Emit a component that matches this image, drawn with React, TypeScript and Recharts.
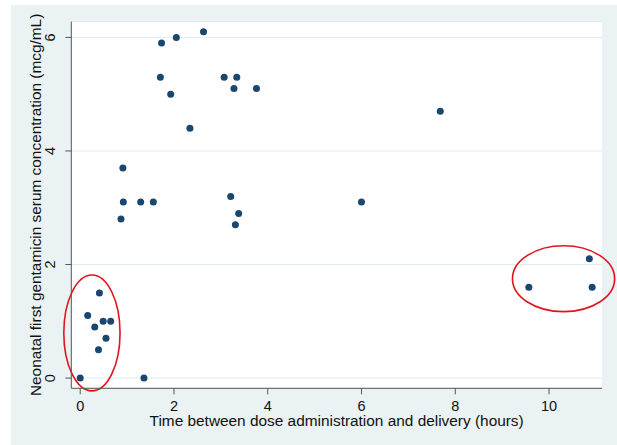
import {
  ScatterChart,
  Scatter,
  XAxis,
  YAxis,
  CartesianGrid,
  ReferenceArea,
} from "recharts";

// time between dose and delivery (hours)
const hours = [
  0, 1.36, 0.39, 0.55, 0.31, 0.49, 0.65, 0.16, 0.41, 0.87, 0.92, 0.91, 1.29,
  1.56, 1.71, 1.735, 1.93, 2.05, 2.34, 2.63, 3.07, 3.34, 3.28, 3.76, 3.21,
  3.38, 3.31, 6.0, 7.68, 9.57, 10.86, 10.92,
];
// neonatal gentamicin concentration (mcg/mL)
const concentration = [
  0, 0, 0.5, 0.7, 0.9, 1.0, 1.0, 1.1, 1.5, 2.8, 3.1, 3.7, 3.1, 3.1, 5.3, 5.9,
  5.0, 6.0, 4.4, 6.1, 5.3, 5.3, 5.1, 5.1, 3.2, 2.9, 2.7, 3.1, 4.7, 1.6, 2.1,
  1.6,
];

const xTicks = [0, 2, 4, 6, 8, 10];
const yTicks = [0, 2, 4, 6];

// red highlight ellipses: center and radii in data units
const ellipseCx = [0.25, 10.31];
const ellipseCy = [0.795, 1.75];
const ellipseRx = [0.6, 1.09];
const ellipseRy = [1.02, 0.58];

const points = hours.map((h, i) => ({ h, c: concentration[i] }));
const ellipses = ellipseCx.map((cx, i) => ({
  x1: cx - ellipseRx[i],
  x2: cx + ellipseRx[i],
  y1: ellipseCy[i] - ellipseRy[i],
  y2: ellipseCy[i] + ellipseRy[i],
}));

const FONT = "'Liberation Sans', Arial, sans-serif";
const NAVY = "#1a476f";
const AXIS = "#555";

const YTick = (props: any) => {
  const { x, y, payload } = props;
  const bx = x - 8;
  return (
    <text
      x={bx}
      y={y}
      transform={`rotate(-90, ${bx}, ${y})`}
      textAnchor="middle"
      fontSize={14.5}
      fontFamily={FONT}
      fill="#111"
    >
      {payload.value}
    </text>
  );
};

const YLabel = (props: any) => {
  const vb = props.viewBox;
  const x = vb.x + 41.5;
  const y = vb.y + vb.height / 2;
  return (
    <text
      x={x}
      y={y}
      transform={`rotate(-90, ${x}, ${y})`}
      textAnchor="middle"
      fontSize={15.4}
      fontFamily={FONT}
      fill="#111"
    >
      Neonatal first gentamicin serum concentration (mcg/mL)
    </text>
  );
};

const XLabel = (props: any) => {
  const vb = props.viewBox;
  return (
    <text
      x={vb.x + vb.width / 2}
      y={vb.y + 38}
      textAnchor="middle"
      fontSize={15.4}
      fontFamily={FONT}
      fill="#111"
    >
      Time between dose administration and delivery (hours)
    </text>
  );
};

const Ellipse = (props: any) => {
  const { x, y, width, height } = props;
  return (
    <ellipse
      cx={x + width / 2}
      cy={y + height / 2}
      rx={Math.abs(width) / 2}
      ry={Math.abs(height) / 2}
      fill="none"
      stroke="#e0141e"
      strokeWidth={1.6}
    />
  );
};

export default function App() {
  return (
    <div
      style={{
        position: "absolute",
        left: 0,
        top: 0,
        width: 617,
        height: 445,
        background: "#fff",
      }}
    >
      <div
        style={{
          position: "absolute",
          left: 11,
          top: 5,
          right: 0,
          bottom: 0,
          background: "#eaf2f3",
        }}
      />
      <div style={{ position: "absolute", left: 0, top: 0 }}>
        <ScatterChart
          width={617}
          height={445}
          margin={{ top: 21.5, right: 15, left: 0, bottom: 0 }}
        >
          <CartesianGrid
            vertical={false}
            fill="#fff"
            stroke="#e4eced"
            strokeWidth={1}
          />
          <XAxis
            type="number"
            dataKey="h"
            domain={[-0.19, 11.13]}
            allowDataOverflow
            ticks={xTicks}
            height={56.7}
            tickSize={6}
            tickMargin={6}
            stroke={AXIS}
            tick={{ fontSize: 14.5, fontFamily: FONT, fill: "#111" }}
            label={<XLabel />}
          />
          <YAxis
            type="number"
            dataKey="c"
            domain={[-0.18, 6.28]}
            allowDataOverflow
            ticks={yTicks}
            width={71.3}
            tickSize={6}
            stroke={AXIS}
            tick={<YTick />}
            label={<YLabel />}
          />
          <Scatter
            data={points}
            isAnimationActive={false}
            shape={(p: any) => (
              <circle cx={p.cx} cy={p.cy} r={3.5} fill={NAVY} />
            )}
          />
          {ellipses.map((e, i) => (
            <ReferenceArea
              key={i}
              x1={e.x1}
              x2={e.x2}
              y1={e.y1}
              y2={e.y2}
              ifOverflow="visible"
              shape={<Ellipse />}
            />
          ))}
        </ScatterChart>
      </div>
    </div>
  );
}
